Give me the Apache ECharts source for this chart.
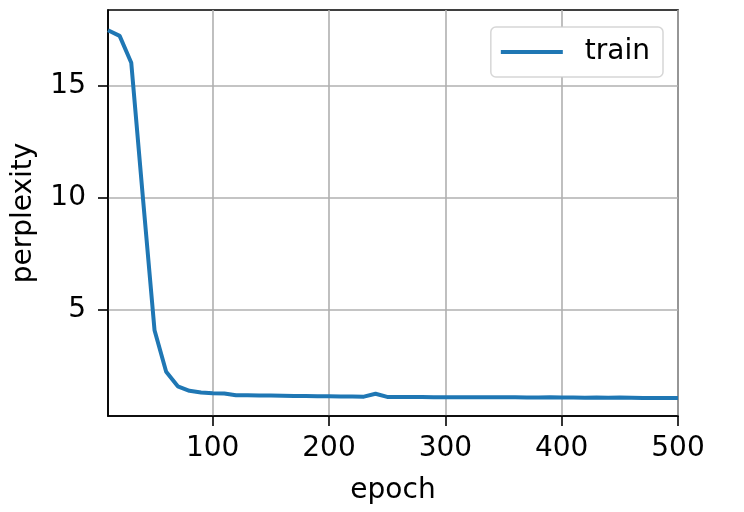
<!DOCTYPE html>
<html>
<head>
<meta charset="utf-8">
<script src="https://cdn.jsdelivr.net/npm/echarts@6/dist/echarts.min.js"></script>
<style>html,body{margin:0;padding:0;background:#fff}#c{width:744px;height:512px}</style>
</head>
<body>
<div id="c"></div>
<script>
const epochs = [10,20,30,40,50,60,70,80,90,100,110,120,130,140,150,160,170,180,190,200,210,220,230,240,250,260,270,280,290,300,310,320,330,340,350,360,370,380,390,400,410,420,430,440,450,460,470,480,490,500];
const trainPerplexity = [17.45,17.2,16.0,10.0,4.1,2.25,1.6,1.4,1.33,1.29,1.28,1.2,1.2,1.19,1.19,1.18,1.17,1.17,1.16,1.16,1.15,1.15,1.14,1.27,1.13,1.13,1.13,1.13,1.12,1.12,1.12,1.11,1.11,1.11,1.12,1.11,1.1,1.1,1.11,1.1,1.1,1.09,1.1,1.09,1.1,1.09,1.08,1.08,1.08,1.08];
const xTicks = [100,200,300,400,500];
const yTicks = [5,10,15];

const chart = echarts.init(document.getElementById('c'));
const font = 'DejaVu Sans';
chart.setOption({
  animation: false,
  grid: {left:108, right:66, top:10, bottom:96, show:true, borderColor:'#000', borderWidth:1.6, backgroundColor:'transparent'},
  legend: {
    right: 81, top: 27,
    data: [{name:'train', icon:'rect'}],
    itemWidth: 62, itemHeight: 4, itemGap: 10,
    padding: [11, 13, 11, 10],
    borderColor: 'rgba(204,204,204,0.8)', borderWidth: 1.5, borderRadius: 5,
    backgroundColor: '#fff',
    textStyle: {fontFamily: font, fontSize: 28, color:'#000', padding:[0,0,0,17]}
  },
  xAxis: {
    type: 'value', min: 10, max: 500,
    name: 'epoch', nameLocation: 'middle', nameGap: 61,
    nameTextStyle: {fontFamily: font, fontSize: 28, color:'#000'},
    axisLine: {show:true, lineStyle:{color:'#000', width:1.6}},
    axisTick: {show:true, length:10, lineStyle:{color:'#000', width:1.6}, customValues: xTicks},
    axisLabel: {fontFamily: font, fontSize: 28, color:'#000', margin: 19, customValues: xTicks},
    splitLine: {show:true, lineStyle:{color:'#b0b0b0', width:1.6}}
  },
  yAxis: {
    type: 'value', min: 0.28, max: 18.35,
    name: 'perplexity', nameLocation: 'middle', nameGap: 70,
    nameTextStyle: {fontFamily: font, fontSize: 28, color:'#000'},
    axisLine: {show:true, lineStyle:{color:'#000', width:1.6}},
    axisTick: {show:true, length:10, lineStyle:{color:'#000', width:1.6}, customValues: yTicks},
    axisLabel: {fontFamily: font, fontSize: 28, color:'#000', margin: 22, customValues: yTicks},
    splitLine: {show:true, lineStyle:{color:'#b0b0b0', width:1.6}}
  },
  series: [{
    name: 'train', type: 'line',
    data: epochs.map((e,i)=>[e, trainPerplexity[i]]),
    showSymbol: false, symbol: 'none',
    lineStyle: {color:'#1f77b4', width:4},
    itemStyle: {color:'#1f77b4'}
  }]
});
</script>
</body>
</html>
